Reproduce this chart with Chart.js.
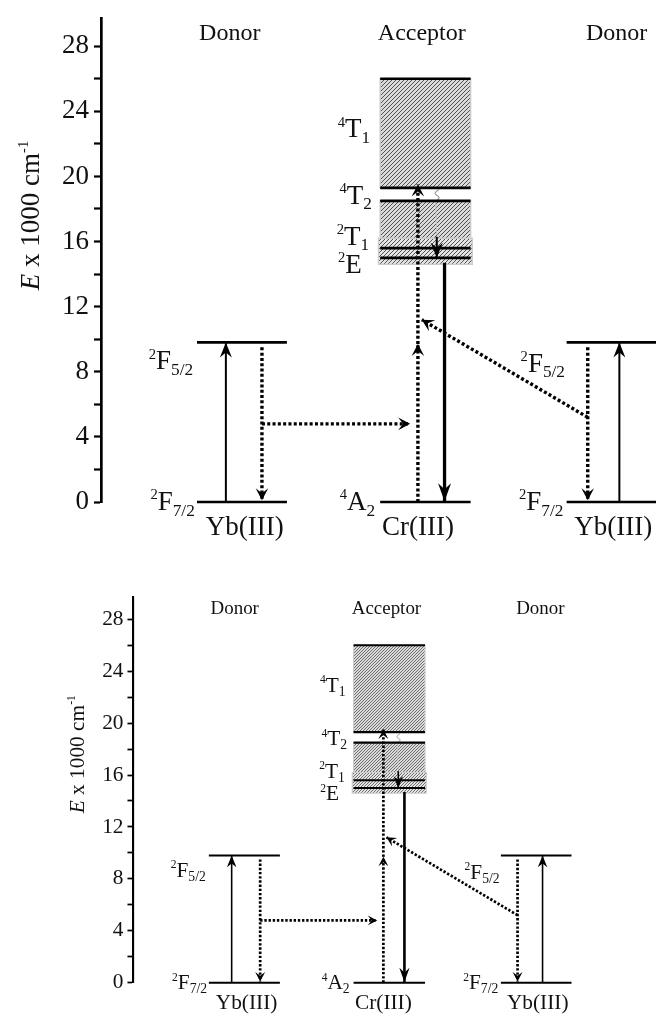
<!DOCTYPE html>
<html>
<head>
<meta charset="utf-8">
<script src="https://cdn.jsdelivr.net/npm/chart.js@4.4.1/dist/chart.umd.min.js"></script>
<style>
  html, body { margin: 0; padding: 0; background: #fff; }
  #wrap { position: relative; width: 656px; height: 1016px; }
  canvas { position: absolute; left: 0; }
</style>
</head>
<body>
<div id="wrap">
  <canvas id="upper" width="656" height="560" style="top:0"></canvas>
  <canvas id="lower" width="656" height="456" style="top:560px"></canvas>
</div>
<script>
// ---- Energy axis (units of 1000 cm^-1) ----
const energyMax = 29.7;
const energyTickLabels = [0, 4, 8, 12, 16, 20, 24, 28];
const energyMinorStep = 2;

// ---- Schematic horizontal axis: three ion columns on a 0..100 range ----
const columnMin = 0;
const columnMax = 100;
const roleNames = ['Donor', 'Acceptor', 'Donor'];
const roleColumn = [23.2, 57.8, 92.9];
const ionNames = ['Yb(III)', 'Cr(III)', 'Yb(III)'];
const ionColumn = [25.9, 57.1, 92.3];

// ---- Electronic levels ----
const levelNames  = ['2F7/2', '2F5/2', '4A2', '2E', '2T1', '4T2', '4T1', '4T1', '2F7/2', '2F5/2'];
const levelEnergy = [0, 9.8, 0, 15.0, 15.6, 18.5, 19.3, 26.0, 0, 9.8];
const levelFrom   = [17.3, 17.3, 50.3, 50.3, 50.3, 50.3, 50.3, 50.3, 83.9, 83.9];
const levelTo     = [33.5, 33.5, 66.6, 66.6, 66.6, 66.6, 66.6, 66.6, 100, 100];

// ---- Broad Cr(III) bands (4T2 and 4T1), plus the narrow 2T1/2E region ----
const bandLow  = [14.7, 19.3, 14.6];
const bandHigh = [18.5, 26.0, 16.2];
const bandFrom = [50.3, 50.3, 50.0];
const bandTo   = [66.6, 66.6, 66.9];
const bandKind = ['broad', 'broad', 'narrow'];

// ---- Transitions: start (x, E) -> end (x, E) ----
const transKind = ['pump', 'transfer', 'transfer', 'transfer', 'transfer', 'transfer', 'transfer', 'pump', 'emission', 'pump'];
const transX0 = [22.5, 29.0, 29.0, 57.1, 57.1, 87.7, 87.7, 93.4, 61.9, 60.5];
const transE0 = [0,    9.5,  4.8,  0,    9.7,  5.2,  9.5,  0,    14.7, 16.3];
const transX1 = [22.5, 29.0, 55.7, 57.1, 57.1, 57.8, 87.7, 93.4, 61.9, 60.5];
const transE1 = [9.8,  0.1,  4.8,  9.7,  19.5, 11.2, 0.1,  9.8,  0.05, 15.0];

// ---- Non-radiative 4T1 -> 4T2 relaxation (wavy) ----
const wavyX = [60.9, 60.2, 60.9, 60.3];
const wavyE = [19.2, 18.95, 18.7, 18.45];
const fadeX = [60.3, 60.5];
const fadeE = [18.45, 16.4];

const SERIF = "'Liberation Serif', 'Times New Roman', serif";
const INK = '#111';

// Text labels of the states (position in data units: right edge x, baseline E)
const stateLabels = [
  { parts: [['2', 'sup'], ['F', 'n'], ['5/2', 'sub']], x: 16.6, e: 8.15 },
  { parts: [['2', 'sup'], ['F', 'n'], ['7/2', 'sub']], x: 16.9, e: -0.5 },
  { parts: [['4', 'sup'], ['A', 'n'], ['2', 'sub']],   x: 49.4, e: -0.5 },
  { parts: [['4', 'sup'], ['T', 'n'], ['1', 'sub']],   x: 48.5, e: 22.4 },
  { parts: [['4', 'sup'], ['T', 'n'], ['2', 'sub']],   x: 48.8, e: 18.3 },
  { parts: [['2', 'sup'], ['T', 'n'], ['1', 'sub']],   x: 48.3, e: 15.8 },
  { parts: [['2', 'sup'], ['E', 'n']],                 x: 47.0, e: 14.05 },
  { parts: [['2', 'sup'], ['F', 'n'], ['5/2', 'sub']], x: 83.6, e: 8.0 },
  { parts: [['2', 'sup'], ['F', 'n'], ['7/2', 'sub']], x: 83.3, e: -0.5 }
];

function richText(ctx, parts, x, y, align, F) {
  const spec = parts.map(([t, k]) => {
    let size = F, dy = 0, style = '';
    if (k === 'sup') { size = F * 0.54; dy = -F * 0.4; }
    if (k === 'sub') { size = F * 0.64; dy = F * 0.2; }
    if (k === 'i') { style = 'italic '; }
    const font = style + size.toFixed(2) + 'px ' + SERIF;
    ctx.font = font;
    return { t, font, dy, w: ctx.measureText(t).width };
  });
  const total = spec.reduce((a, p) => a + p.w, 0);
  let cx = align === 'right' ? x - total : align === 'center' ? x - total / 2 : x;
  ctx.textAlign = 'left';
  ctx.textBaseline = 'alphabetic';
  spec.forEach(p => {
    ctx.font = p.font;
    ctx.fillText(p.t, cx, y + p.dy);
    cx += p.w;
  });
}

function hatchPattern(ctx, s, bg) {
  const n = Math.max(3, Math.round(4.4 * s));
  const c = document.createElement('canvas');
  c.width = n; c.height = n;
  const g = c.getContext('2d');
  g.fillStyle = bg;
  g.fillRect(0, 0, n, n);
  g.strokeStyle = '#4a4a4a';
  g.lineWidth = 0.95 * s;
  g.beginPath();
  g.moveTo(-1, 1); g.lineTo(1, -1);
  g.moveTo(0, n); g.lineTo(n, 0);
  g.moveTo(n - 1, n + 1); g.lineTo(n + 1, n - 1);
  g.stroke();
  return ctx.createPattern(c, 'repeat');
}

function arrowHead(ctx, x, y, ang, len, hw, notch) {
  ctx.save();
  ctx.translate(x, y);
  ctx.rotate(ang);
  ctx.beginPath();
  ctx.moveTo(0, 0);
  ctx.lineTo(-len, -hw);
  ctx.lineTo(-len + notch, 0);
  ctx.lineTo(-len, hw);
  ctx.closePath();
  ctx.fill();
  ctx.restore();
}

function buildPanel(canvasId, s, axisWidth, padding) {
  const datasets = [];

  levelEnergy.forEach((e, i) => {
    datasets.push({
      label: levelNames[i],
      data: [{ x: levelFrom[i], y: e }, { x: levelTo[i], y: e }],
      showLine: true, borderColor: '#000', borderWidth: 2.7 * s,
      borderCapStyle: 'butt', pointRadius: 0, clip: false
    });
  });

  transKind.forEach((k, i) => {
    const dotted = k === 'transfer';
    datasets.push({
      label: 'transition ' + (i + 1),
      data: [{ x: transX0[i], y: transE0[i] }, { x: transX1[i], y: transE1[i] }],
      showLine: true, borderColor: '#000',
      borderWidth: (k === 'emission' ? 3.3 : dotted ? 3.4 : 2.0) * s,
      borderDash: dotted ? [3 * s, 2.3 * s] : [],
      borderCapStyle: 'butt', pointRadius: 0, clip: false,
      arrowKind: k
    });
  });

  datasets.push({
    label: '4T1 to 4T2',
    data: wavyX.map((x, i) => ({ x, y: wavyE[i] })),
    showLine: true, borderColor: '#9a9a9a', borderWidth: 1.2 * s,
    tension: 0.5, pointRadius: 0, clip: false
  });
  datasets.push({
    label: '4T2 to 2T1',
    data: fadeX.map((x, i) => ({ x, y: fadeE[i] })),
    showLine: true, borderColor: '#c4c4c4', borderWidth: 1.0 * s,
    pointRadius: 0, clip: false
  });

  const bandPlugin = {
    id: 'bands',
    beforeDatasetsDraw(chart) {
      const { ctx, scales: { x, y } } = chart;
      const broad = hatchPattern(ctx, s, '#dadada');
      const narrow = hatchPattern(ctx, s, '#e4e4e4');
      bandLow.forEach((lo, i) => {
        const x0 = x.getPixelForValue(bandFrom[i]);
        const x1 = x.getPixelForValue(bandTo[i]);
        const y0 = y.getPixelForValue(bandHigh[i]);
        const y1 = y.getPixelForValue(lo);
        ctx.save();
        ctx.fillStyle = bandKind[i] === 'broad' ? broad : narrow;
        ctx.fillRect(x0, y0, x1 - x0, y1 - y0);
        ctx.strokeStyle = '#cccccc';
        ctx.lineWidth = 1.4 * s;
        ctx.strokeRect(x0, y0, x1 - x0, y1 - y0);
        ctx.restore();
      });
    }
  };

  const arrowPlugin = {
    id: 'arrowHeads',
    afterDatasetsDraw(chart) {
      const { ctx, scales: { x, y } } = chart;
      ctx.save();
      ctx.fillStyle = '#000';
      chart.data.datasets.forEach(ds => {
        if (!ds.arrowKind) return;
        const a = ds.data[0], b = ds.data[1];
        const ax = x.getPixelForValue(a.x), ay = y.getPixelForValue(a.y);
        const bx = x.getPixelForValue(b.x), by = y.getPixelForValue(b.y);
        const ang = Math.atan2(by - ay, bx - ax);
        if (ds.arrowKind === 'transfer') arrowHead(ctx, bx, by, ang, 12 * s, 6.3 * s, 5 * s);
        else if (ds.arrowKind === 'emission') arrowHead(ctx, bx, by, ang, 18 * s, 6.5 * s, 6 * s);
        else arrowHead(ctx, bx, by, ang, 15 * s, 6 * s, 5 * s);
      });
      ctx.restore();
    }
  };

  const textPlugin = {
    id: 'texts',
    afterDraw(chart) {
      const { ctx, scales: { x, y }, chartArea } = chart;
      ctx.save();
      ctx.fillStyle = INK;

      roleNames.forEach((t, i) => {
        richText(ctx, [[t, 'n']], x.getPixelForValue(roleColumn[i]), y.getPixelForValue(28.4), 'center', 24 * s);
      });
      ionNames.forEach((t, i) => {
        richText(ctx, [[t, 'n']], x.getPixelForValue(ionColumn[i]), y.getPixelForValue(-2.0), 'center', 27 * s);
      });
      stateLabels.forEach(l => {
        richText(ctx, l.parts, x.getPixelForValue(l.x), y.getPixelForValue(l.e), 'right', 27 * s);
      });

      // rotated energy-axis title
      ctx.save();
      ctx.translate(chartArea.left - 62 * s, y.getPixelForValue(17.6));
      ctx.rotate(-Math.PI / 2);
      richText(ctx, [['E', 'i'], [' x 1000 cm', 'n'], ['-1', 'sup']], 0, 0, 'center', 27 * s);
      ctx.restore();

      ctx.restore();
    }
  };

  return new Chart(document.getElementById(canvasId), {
    type: 'scatter',
    data: { datasets },
    options: {
      responsive: false,
      animation: false,
      devicePixelRatio: 1,
      events: [],
      layout: { padding },
      plugins: { legend: { display: false }, tooltip: { enabled: false } },
      scales: {
        x: { type: 'linear', min: columnMin, max: columnMax, display: false },
        y: {
          type: 'linear', min: 0, max: energyMax,
          afterFit(scale) { scale.width = axisWidth; },
          ticks: {
            stepSize: energyMinorStep, autoSkip: false, includeBounds: false,
            callback: v => energyTickLabels.includes(v) ? String(v) : '',
            font: { family: SERIF, size: 27 * s, lineHeight: 1 },
            color: INK, padding: 5 * s
          },
          grid: {
            drawOnChartArea: false, drawTicks: true,
            tickLength: 7 * s, tickWidth: 2.2 * s, tickColor: '#000'
          },
          border: { display: true, color: '#000', width: 2.7 * s }
        }
      }
    },
    plugins: [bandPlugin, arrowPlugin, textPlugin]
  });
}

buildPanel('upper', 1, 101, { top: 16, bottom: 58, left: 0, right: 0 });
buildPanel('lower', 0.79, 133, { top: 37.2, bottom: 33.3, left: 0, right: 84.5 });
</script>
</body>
</html>
